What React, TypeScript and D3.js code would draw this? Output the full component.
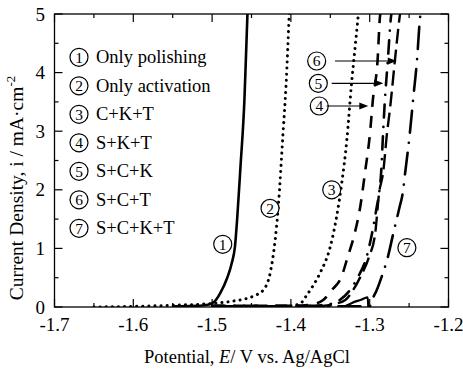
import React from "react";
import * as d3 from "d3";

// ---- data (potential E / V, current density i / mA cm^-2) ----
const xTicks = [-1.7, -1.6, -1.5, -1.4, -1.3, -1.2];
const yTicks = [0, 1, 2, 3, 4, 5];

const curve1: [number, number][] = [
  [-1.55, 0.01], [-1.52, 0.02], [-1.505, 0.04], [-1.498, 0.08], [-1.49, 0.23], [-1.481, 0.49],
  [-1.475, 0.75], [-1.471, 1.03], [-1.468, 1.54], [-1.464, 2.39], [-1.459, 3.53], [-1.456, 4.67], [-1.455, 5.05],
];
const curve2: [number, number][] = [
  [-1.65, 0.0], [-1.6, 0.01], [-1.55, 0.03], [-1.5, 0.06], [-1.474, 0.1], [-1.447, 0.19], [-1.435, 0.29],
  [-1.426, 0.6], [-1.42, 1.14], [-1.416, 1.71], [-1.41, 2.96], [-1.406, 3.82], [-1.402, 5.05],
];
const curve3: [number, number][] = [
  [-1.4, 0.02], [-1.388, 0.06], [-1.38, 0.2], [-1.372, 0.36], [-1.363, 0.58], [-1.35, 1.03], [-1.342, 1.54],
  [-1.3355, 2.11], [-1.329, 2.85], [-1.323, 3.82], [-1.318, 4.5], [-1.314, 5.05],
];
const curve4: [number, number][] = [
  [-1.5, 0.02], [-1.4, 0.02], [-1.375, 0.04], [-1.359, 0.12], [-1.348, 0.29], [-1.336, 0.51], [-1.328, 0.85],
  [-1.319, 1.26], [-1.312, 1.71], [-1.306, 2.29], [-1.2996, 2.97], [-1.296, 3.53], [-1.29, 4.21], [-1.287, 4.95], [-1.286, 5.05],
];
const curve5: [number, number][] = [
  [-1.5, 0.02], [-1.38, 0.02], [-1.355, 0.04], [-1.338, 0.12], [-1.325, 0.29], [-1.315, 0.51], [-1.304, 0.85],
  [-1.297, 1.26], [-1.291, 1.71], [-1.288, 1.95], [-1.2855, 2.29], [-1.283, 2.97], [-1.281, 3.47], [-1.277, 4.21],
  [-1.273, 4.95], [-1.272, 5.05],
];
const curve6: [number, number][] = [
  [-1.5, 0.01], [-1.36, 0.02], [-1.345, 0.05], [-1.331, 0.12], [-1.321, 0.29], [-1.312, 0.51], [-1.301, 0.85],
  [-1.293, 1.26], [-1.288, 1.95], [-1.283, 2.29], [-1.278, 2.97], [-1.274, 3.41], [-1.268, 4.21], [-1.262, 4.95], [-1.261, 5.05],
];
const curve7: [number, number][] = [
  [-1.5, 0.01], [-1.3, 0.01], [-1.297, 0.12], [-1.291, 0.29], [-1.285, 0.51], [-1.277, 0.85], [-1.27, 1.26],
  [-1.262, 1.71], [-1.258, 1.95], [-1.255, 2.29], [-1.249, 2.97], [-1.245, 3.53], [-1.24, 4.21], [-1.236, 4.95], [-1.235, 5.05],
];
const curve7Hump: [number, number][] = [
  [-1.33, 0.02], [-1.3225, 0.07], [-1.312, 0.12], [-1.3025, 0.165], [-1.3018, 0.0],
];

const legendLabels = ["Only polishing", "Only activation", "C+K+T", "S+K+T", "S+C+K", "S+C+T", "S+C+K+T"];

// curve label positions (data units)
const curveLabels: { n: string; E: number; i: number }[] = [
  { n: "1", E: -1.4865, i: 1.07 },
  { n: "2", E: -1.4265, i: 1.684 },
  { n: "3", E: -1.3482, i: 2.0 },
  { n: "7", E: -1.2528, i: 1.012 },
];
// arrows for 6,5,4 (data units)
const arrowLabels: { n: string; labelE: number; fromE: number; toE: number; i: number }[] = [
  { n: "6", labelE: -1.3673, fromE: -1.344, toE: -1.2657, i: 4.198 },
  { n: "5", labelE: -1.3652, fromE: -1.3482, toE: -1.2827, i: 3.817 },
  { n: "4", labelE: -1.364, fromE: -1.3546, toE: -1.3018, i: 3.43 },
];

const W = 463;
const H = 372;
const M = { left: 54.5, right: 448.5, top: 14, bottom: 307 };
const FONT = "Liberation Serif, DejaVu Serif, Times New Roman, serif";

const x = d3.scaleLinear().domain([-1.7, -1.2]).range([M.left, M.right]);
const y = d3.scaleLinear().domain([0, 5]).range([M.bottom, M.top]);

const line = d3
  .line<[number, number]>()
  .x((d) => x(d[0]))
  .y((d) => y(d[1]))
  .curve(d3.curveMonotoneX);

const series = [
  { data: curve1, dash: undefined, width: 2.6, cap: "butt" },
  { data: curve2, dash: "0.1 6", width: 3, cap: "round" },
  { data: curve3, dash: "0.1 6", width: 3, cap: "round" },
  { data: curve4, dash: "12 9", width: 2.6, cap: "butt" },
  { data: curve5, dash: "13 9.5 0.1 9.5", width: 2.6, cap: "round" },
  { data: curve6, dash: "15 6", width: 2.4, cap: "butt" },
  { data: curve7, dash: "22 10 0.1 10", width: 2.6, cap: "round" },
  { data: curve7Hump, dash: undefined, width: 2.2, cap: "butt" },
];

const txt = { fontFamily: FONT };

const Circled = ({ cx, cy, n, r = 9 }: { cx: number; cy: number; n: string; r?: number }) => (
  <g>
    <circle cx={cx} cy={cy} r={r} fill="white" stroke="black" strokeWidth={1.2} />
    <text x={cx} y={cy + 5.3} textAnchor="middle" fontSize={15.5} style={txt}>
      {n}
    </text>
  </g>
);

export default function App() {
  const xMinor = d3.range(-1.7, -1.1999, 0.05).map((v) => +v.toFixed(3));
  const yMinor = d3.range(0, 5.001, 0.5).map((v) => +v.toFixed(2));
  const isMajorX = (v: number) => Math.abs(v * 10 - Math.round(v * 10)) < 1e-6;
  const isMajorY = (v: number) => Math.abs(v - Math.round(v)) < 1e-6;
  const legendY0 = 57.3;
  const legendStep = 28.5;

  return (
    <svg width={W} height={H} style={{ position: "absolute", left: 0, top: 0, background: "white", fontFamily: FONT }}>
      <defs>
        <clipPath id="plot">
          <rect x={M.left} y={M.top} width={M.right - M.left} height={M.bottom - M.top} />
        </clipPath>
      </defs>
      <rect x={0} y={0} width={W} height={H} fill="white" />

      {/* curves */}
      <g clipPath="url(#plot)">
        {series.map((s, k) => (
          <path
            key={k}
            d={line(s.data) || ""}
            fill="none"
            stroke="black"
            strokeWidth={s.width}
            strokeDasharray={s.dash}
            strokeLinecap={s.cap as any}
            strokeLinejoin="round"
          />
        ))}
      </g>

      {/* frame */}
      <rect
        x={M.left}
        y={M.top}
        width={M.right - M.left}
        height={M.bottom - M.top}
        fill="none"
        stroke="black"
        strokeWidth={1.3}
      />

      {/* ticks */}
      {xMinor.map((v, k) => {
        const len = isMajorX(v) ? 8 : 4;
        return (
          <g key={"xt" + k} stroke="black" strokeWidth={1.2}>
            <line x1={x(v)} x2={x(v)} y1={M.bottom} y2={M.bottom - len} />
            <line x1={x(v)} x2={x(v)} y1={M.top} y2={M.top + len} />
          </g>
        );
      })}
      {yMinor.map((v, k) => {
        const len = isMajorY(v) ? 8 : 4;
        return (
          <g key={"yt" + k} stroke="black" strokeWidth={1.2}>
            <line x1={M.left} x2={M.left + len} y1={y(v)} y2={y(v)} />
            <line x1={M.right} x2={M.right - len} y1={y(v)} y2={y(v)} />
          </g>
        );
      })}

      {/* tick labels */}
      {xTicks.map((v) => (
        <text key={"xl" + v} x={x(v)} y={331} textAnchor="middle" fontSize={19} style={txt}>
          {v.toFixed(1)}
        </text>
      ))}
      {yTicks.map((v) => (
        <text key={"yl" + v} x={45} y={y(v) + 6.5} textAnchor="end" fontSize={19} style={txt}>
          {v}
        </text>
      ))}

      {/* axis titles */}
      <text x={247} y={363} textAnchor="middle" fontSize={18.5} style={txt}>
        Potential,{" "}
        <tspan fontStyle="italic">E</tspan>
        {"/ V vs. Ag/AgCl"}
      </text>
      <text transform={`translate(23,188) rotate(-90)`} textAnchor="middle" fontSize={19.5} style={txt}>
        Current Density, i / mA·cm
        <tspan dy={-8} fontSize={13}>
          -2
        </tspan>
      </text>

      {/* legend */}
      {legendLabels.map((lab, k) => {
        const cy = legendY0 + k * legendStep;
        return (
          <g key={"lg" + k}>
            <Circled cx={79} cy={cy} n={String(k + 1)} />
            <text x={96} y={cy + 6} fontSize={18.5} style={txt}>
              {lab}
            </text>
          </g>
        );
      })}

      {/* curve labels */}
      {curveLabels.map((c) => (
        <Circled key={"cl" + c.n} cx={x(c.E)} cy={y(c.i)} n={c.n} />
      ))}

      {/* arrows */}
      {arrowLabels.map((a) => {
        const yy = y(a.i);
        const tx = x(a.toE);
        return (
          <g key={"ar" + a.n}>
            <Circled cx={x(a.labelE)} cy={yy} n={a.n} />
            <line x1={x(a.fromE)} x2={tx - 7} y1={yy} y2={yy} stroke="black" strokeWidth={1.2} />
            <path d={`M${tx},${yy} L${tx - 9},${yy - 3.5} L${tx - 9},${yy + 3.5} Z`} fill="black" />
          </g>
        );
      })}
    </svg>
  );
}
